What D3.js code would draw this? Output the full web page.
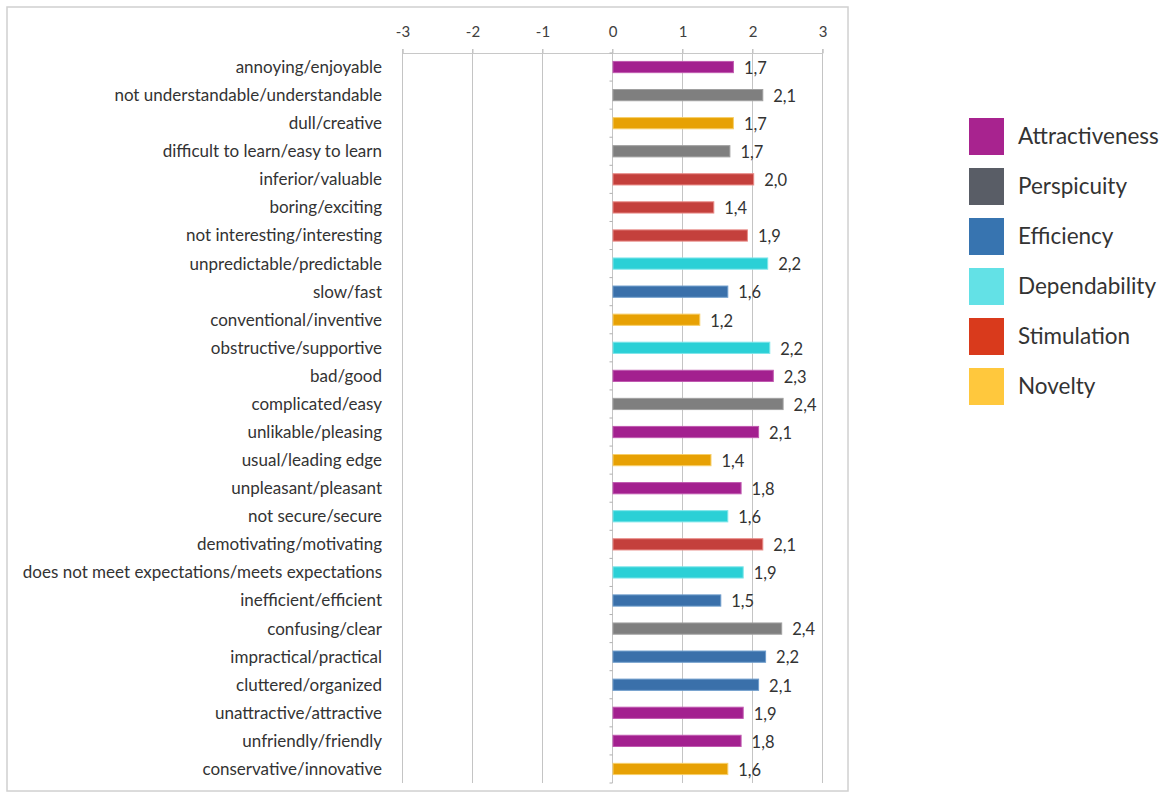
<!DOCTYPE html>
<html><head><meta charset="utf-8">
<script src="https://cdn.jsdelivr.net/npm/d3@7"></script>
<style>body{margin:0;background:#fff}svg{display:block}text{font-family:Lato,"Open Sans",sans-serif}</style>
</head><body>
<svg id="c" width="1172" height="798"></svg>
<script>
const items = ["annoying/enjoyable","not understandable/understandable","dull/creative","difficult to learn/easy to learn","inferior/valuable","boring/exciting","not interesting/interesting","unpredictable/predictable","slow/fast","conventional/inventive","obstructive/supportive","bad/good","complicated/easy","unlikable/pleasing","usual/leading edge","unpleasant/pleasant","not secure/secure","demotivating/motivating","does not meet expectations/meets expectations","inefficient/efficient","confusing/clear","impractical/practical","cluttered/organized","unattractive/attractive","unfriendly/friendly","conservative/innovative"];
const values = [1.72,2.14,1.72,1.67,2.01,1.44,1.92,2.21,1.64,1.24,2.24,2.29,2.43,2.08,1.40,1.83,1.64,2.14,1.86,1.54,2.41,2.18,2.08,1.86,1.83,1.64];
const scales = ["Attractiveness","Perspicuity","Novelty","Perspicuity","Stimulation","Stimulation","Stimulation","Dependability","Efficiency","Novelty","Dependability","Attractiveness","Perspicuity","Attractiveness","Novelty","Attractiveness","Dependability","Stimulation","Dependability","Efficiency","Perspicuity","Efficiency","Efficiency","Attractiveness","Attractiveness","Novelty"];
const legendNames = ["Attractiveness","Perspicuity","Efficiency","Dependability","Stimulation","Novelty"];
const barColors = ["#a3208f","#7f7f7f","#3a70aa","#2bd0d6","#c4403c","#e7a104"];
const barStroke = ["#c05ab0","#a0a0a0","#6e9ccc","#7fe6ea","#e88a86","#f7cf6a"];
const legendColors = ["#a8238f","#595d66","#3774b0","#63e1e6","#d93a1c","#ffc83d"];
const xTicks = [-3,-2,-1,0,1,2,3];

const svg = d3.select("#c");
const x = d3.scaleLinear().domain([-3,3]).range([402.5,822.5]);
const y = d3.scaleBand().domain(items).range([53,783]).paddingInner(0.6).paddingOuter(0.3);
const fill = d3.scaleOrdinal().domain(legendNames).range(barColors);
const stroke = d3.scaleOrdinal().domain(legendNames).range(barStroke);
const lfill = d3.scaleOrdinal().domain(legendNames).range(legendColors);
const fmt = v => d3.format(".1f")(v).replace(".", ",");

// frame
svg.append("rect").attr("x",7).attr("y",7).attr("width",841).attr("height",784)
  .attr("fill","none").attr("stroke","#d0d0d0").attr("stroke-width",1.5);

// gridlines
svg.append("g").selectAll("line").data(xTicks).join("line")
  .attr("x1",d=>x(d)).attr("x2",d=>x(d)).attr("y1",49).attr("y2",783)
  .attr("stroke","#c4c4c4").attr("stroke-width",1);

// top axis
const ax = svg.append("g").attr("transform","translate(0,53)")
  .call(d3.axisTop(x).tickValues(xTicks).tickSize(4).tickPadding(12).tickFormat(d => String(d)));
ax.select(".domain").attr("stroke","#c8c8c8");
ax.selectAll(".tick line").attr("stroke","#c4c4c4");
ax.selectAll(".tick text").attr("fill","#404040").style("font-size","15px").style("font-family","Lato, sans-serif");

// minor category ticks on zero line
const bounds = d3.range(items.length+1).map(i => 53 + i*(730/items.length));
svg.append("g").selectAll("line").data(bounds).join("line")
  .attr("x1",x(0)-3).attr("x2",x(0)).attr("y1",d=>d).attr("y2",d=>d)
  .attr("stroke","#b0b0b0");

// category labels
svg.append("g").selectAll("text").data(items).join("text")
  .attr("x",382).attr("y",d=>y(d)+y.bandwidth()/2).attr("dy","0.35em")
  .attr("text-anchor","end").attr("fill","#333").style("font-size","17px").text(d=>d);

// bars
svg.append("g").selectAll("rect").data(items).join("rect")
  .attr("x",x(0)+0.5).attr("y",(d)=>y(d))
  .attr("width",(d,i)=>x(values[i])-x(0)).attr("height",y.bandwidth())
  .attr("fill",(d,i)=>fill(scales[i])).attr("stroke",(d,i)=>stroke(scales[i])).attr("stroke-width",1);

// value labels
svg.append("g").selectAll("text").data(items).join("text")
  .attr("x",(d,i)=>x(values[i])+11).attr("y",d=>y(d)+y.bandwidth()/2+1).attr("dy","0.35em")
  .attr("fill","#333").style("font-size","16.5px").text((d,i)=>fmt(values[i]));

// legend
const lg = svg.append("g").selectAll("g").data(legendNames).join("g")
  .attr("transform",(d,i)=>`translate(969,${118+i*50})`);
lg.append("rect").attr("width",35).attr("height",37).attr("fill",d=>lfill(d));
lg.append("text").attr("x",49).attr("y",18.5).attr("dy","0.35em")
  .attr("fill","#333").style("font-size","22.5px").text(d=>d);
</script>
</body></html>
